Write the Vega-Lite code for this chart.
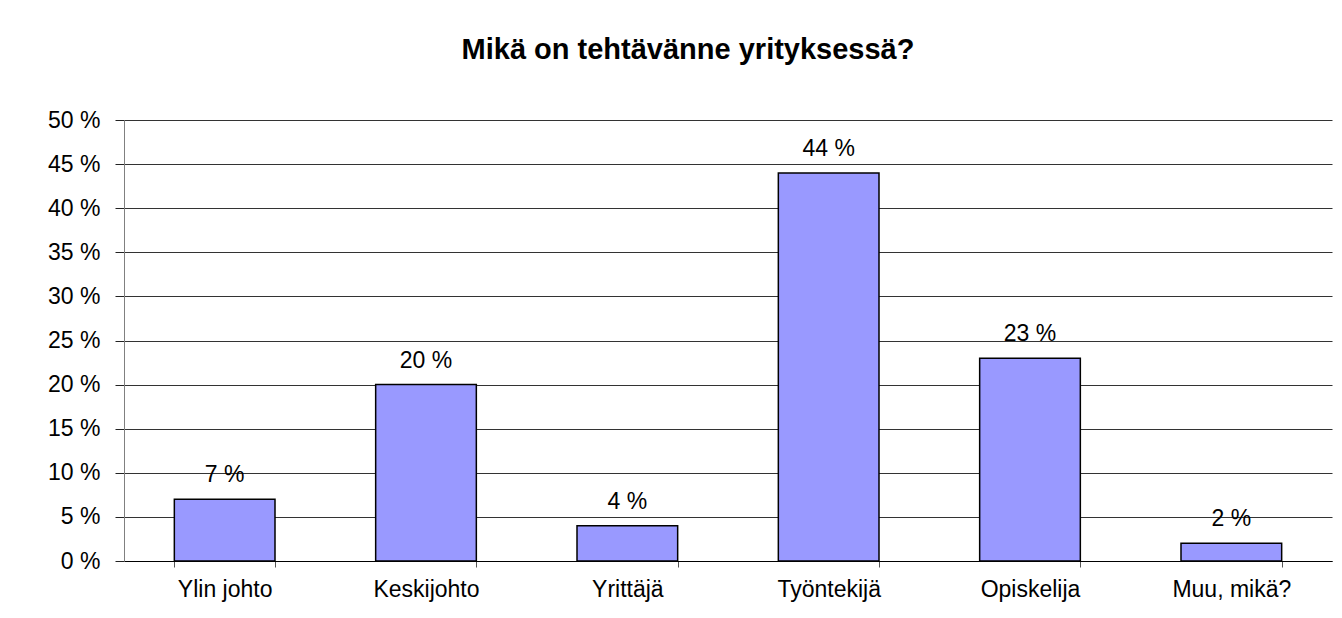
{
  "$schema": "https://vega.github.io/schema/vega-lite/v6.json",
  "autosize": {"type": "none"},
  "padding": {"left": 124, "top": 120, "right": 10, "bottom": 57},
  "width": 1208,
  "height": 441,
  "background": "white",
  "title": {
    "text": "Mikä on tehtävänne yrityksessä?",
    "font": "Liberation Sans",
    "fontSize": 29,
    "fontWeight": "bold",
    "color": "black",
    "anchor": "middle",
    "dx": -40,
    "offset": 44
  },
  "data": {
    "values": [
      {"tehtava": "Ylin johto", "osuus": 7},
      {"tehtava": "Keskijohto", "osuus": 20},
      {"tehtava": "Yrittäjä", "osuus": 4},
      {"tehtava": "Työntekijä", "osuus": 44},
      {"tehtava": "Opiskelija", "osuus": 23},
      {"tehtava": "Muu, mikä?", "osuus": 2}
    ]
  },
  "transform": [{"calculate": "datum.osuus + ' %'", "as": "label"}],
  "encoding": {
    "x": {
      "field": "tehtava",
      "type": "nominal",
      "sort": null,
      "scale": {"paddingInner": 0.5, "paddingOuter": 0.25},
      "axis": {
        "title": null,
        "labelAngle": 0,
        "labelFont": "Liberation Sans",
        "labelFontSize": 23,
        "labelColor": "black",
        "labelPadding": 11,
        "tickBand": "extent",
        "tickSize": 6,
        "tickColor": "#555",
        "domainColor": "black",
        "grid": false
      }
    },
    "y": {
      "field": "osuus",
      "type": "quantitative",
      "scale": {"domain": [0, 50], "nice": false},
      "axis": {
        "title": null,
        "values": [0, 5, 10, 15, 20, 25, 30, 35, 40, 45, 50],
        "labelExpr": "datum.value + ' %'",
        "labelFont": "Liberation Sans",
        "labelFontSize": 23,
        "labelColor": "black",
        "labelPadding": 15,
        "tickSize": 9,
        "tickColor": "#222",
        "domainColor": "#808080",
        "grid": true,
        "gridColor": "#333",
        "gridWidth": 1
      }
    }
  },
  "layer": [
    {
      "mark": {"type": "bar", "fill": "#9999FF", "stroke": "black", "strokeWidth": 1.5}
    },
    {
      "mark": {
        "type": "text",
        "font": "Liberation Sans",
        "fontSize": 23,
        "color": "black",
        "baseline": "alphabetic",
        "dy": -17
      },
      "encoding": {"text": {"field": "label"}}
    }
  ],
  "config": {"view": {"stroke": null}}
}
